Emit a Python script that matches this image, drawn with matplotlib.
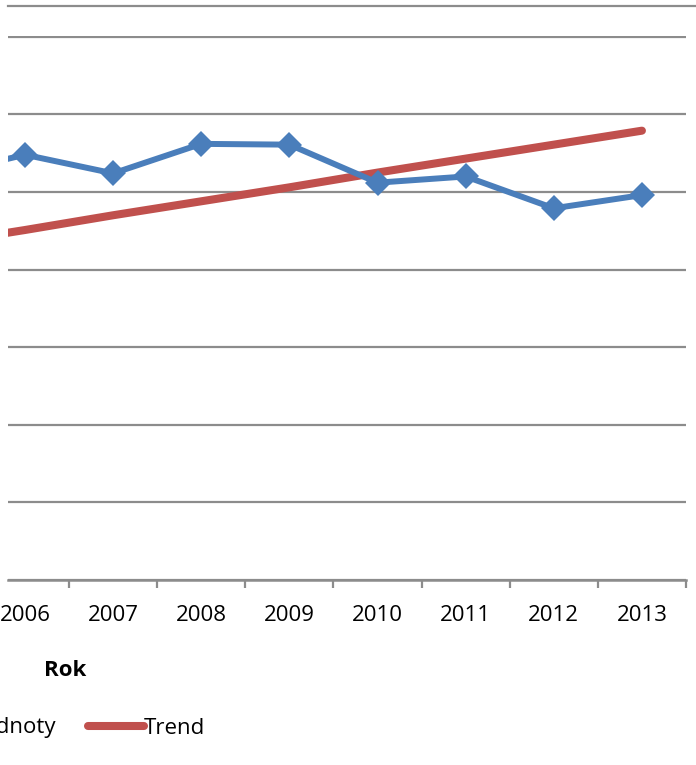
import matplotlib
matplotlib.use("Agg")
import matplotlib.pyplot as plt
from matplotlib.lines import Line2D
from matplotlib.ticker import FixedLocator

BLUE = "#4a7ebb"
RED = "#c0504d"
GRID = "#8c8c8c"

years = [2005, 2006, 2007, 2008, 2009, 2010, 2011, 2012, 2013]
values = [5.21, 5.48, 5.24, 5.62, 5.61, 5.12, 5.20, 4.79, 4.96]
trend = [4.33, 4.51, 4.70, 4.88, 5.06, 5.25, 5.43, 5.61, 5.79]
tick_labels = [str(y) for y in years]

plt.rcParams["font.family"] = ["Open Sans", "DejaVu Sans"]

W, H = 696, 765
fig = plt.figure(figsize=(W / 100, H / 100), dpi=100)
ax = fig.add_axes([8 / W, 1 - 580 / H, (686 - 8) / W, (580 - 36) / H])

ax.plot(years, trend, color=RED, linewidth=5.8, solid_capstyle="round", zorder=3)
ax.plot(years, values, color=BLUE, linewidth=4.3, marker="D", markersize=13,
        markeredgewidth=0, zorder=4)

ax.set_yticks(range(0, 8))
ax.grid(axis="y", color=GRID, linewidth=1.6)
ax.set_axisbelow(True)
ax.tick_params(axis="y", left=False, labelleft=False)

ax.set_xticks(years)
ax.set_xticklabels(tick_labels)
ax.xaxis.set_minor_locator(FixedLocator([y + 0.5 for y in years]))
ax.tick_params(axis="x", which="major", length=0, pad=18, labelsize=16)
ax.tick_params(axis="x", which="minor", length=6, width=1.6, color=GRID, direction="out")

# limits last, set_xticks would widen them otherwise
ax.set_xlim(2006 - 17 / 88.3, 2013.5)
ax.set_ylim(0, 7.01)

for s in ["top", "right", "left"]:
    ax.spines[s].set_visible(False)
ax.spines["bottom"].set_color(GRID)
ax.spines["bottom"].set_linewidth(1.8)

# top border line from the surrounding chart area
fig.add_artist(Line2D([8 / W, 1], [1 - 6 / H, 1 - 6 / H], color=GRID, linewidth=1.6))

fig.text(65 / W, 1 - 671 / H, "Rok", fontsize=16, fontweight="bold", ha="center", va="center")

handles = [
    Line2D([], [], color=BLUE, linewidth=4.3, marker="D", markersize=13, markeredgewidth=0),
    Line2D([], [], color=RED, linewidth=5.8, solid_capstyle="round"),
]
fig.legend(handles, ["Hodnoty", "Trend"], loc="center right",
           bbox_to_anchor=(205 / W, 1 - 728 / H), ncol=2, frameon=False,
           fontsize=16, handlelength=2.5, handletextpad=0.0, columnspacing=1.45,
           borderpad=0, borderaxespad=0)

fig.savefig("out.png", dpi=100)
